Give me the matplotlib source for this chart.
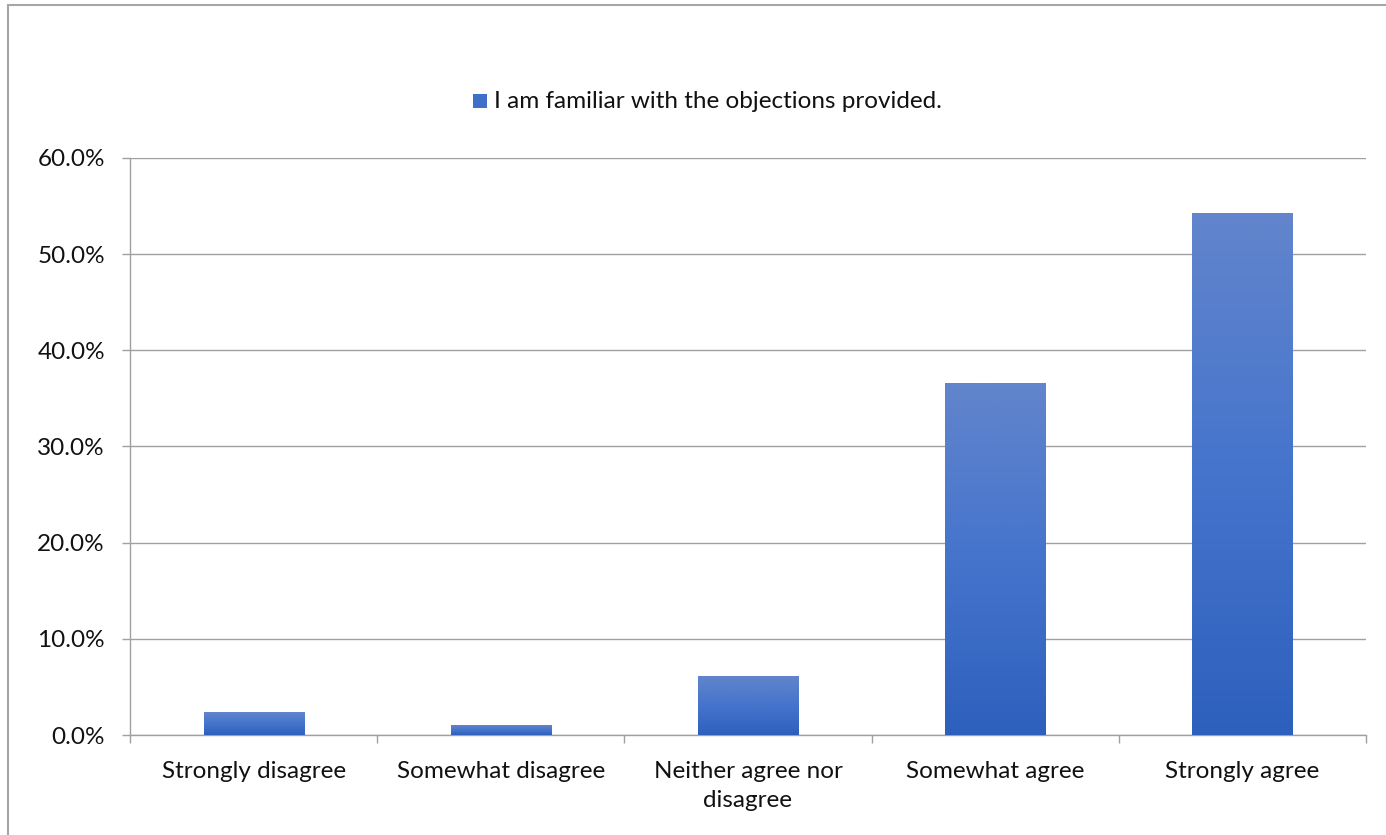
import numpy as np
import matplotlib.pyplot as plt
from matplotlib.colors import LinearSegmentedColormap
from matplotlib.patches import Rectangle

categories = ['Strongly disagree', 'Somewhat disagree', 'Neither agree nor\ndisagree',
              'Somewhat agree', 'Strongly agree']
values = [2.3, 1.0, 6.1, 36.6, 54.2]
series_name = 'I am familiar with the objections provided.'
yticks = [0, 10, 20, 30, 40, 50, 60]

plt.rcParams['font.family'] = ['Lato', 'DejaVu Sans']
FS = 17.5
TXT = '#111111'

W, H = 1386, 835
fig = plt.figure(figsize=(W / 100, H / 100), dpi=100)

# outer chart frame (runs past the right/bottom edge)
fig.patches.append(Rectangle((8 / W, -0.1), 1.2, 1 - 5 / H + 0.1, transform=fig.transFigure,
                             fill=False, edgecolor='#a6a6a6', linewidth=1.5))

ax = fig.add_axes([130 / W, (H - 735) / H, 1236 / W, 577 / H])

grad = LinearSegmentedColormap.from_list('bar', ['#2d60bd', '#4574cc', '#6285cc'])
bar_w = 0.405
for i, v in enumerate(values):
    ax.imshow(np.linspace(0, 1, 256).reshape(-1, 1), cmap=grad, origin='lower', aspect='auto',
              extent=[i - bar_w / 2, i + bar_w / 2, 0, v], zorder=3)

ax.set_xlim(-0.5, len(categories) - 0.5)
ax.set_ylim(0, 60)

ax.set_yticks(yticks)
ax.set_yticklabels([f'{t:.1f}%' for t in yticks])
ax.yaxis.grid(True, color='#a0a0a0', linewidth=1)
ax.set_axisbelow(True)

ax.set_xticks(np.arange(-0.5, len(categories)), labels=[''] * (len(categories) + 1))
ax.set_xticks(np.arange(len(categories)), labels=categories, minor=True)
ax.tick_params(axis='x', which='major', length=6, color='#a0a0a0', width=1)
ax.tick_params(axis='x', which='minor', length=0, pad=19, labelsize=FS, labelcolor=TXT)
ax.tick_params(axis='y', length=6, color='#a0a0a0', width=1, pad=12, labelsize=FS,
               labelcolor=TXT)
for lbl in ax.get_xticklabels(minor=True):
    lbl.set_linespacing(1.45)

for side in ('top', 'right'):
    ax.spines[side].set_visible(False)
for side in ('left', 'bottom'):
    ax.spines[side].set_color('#a0a0a0')
    ax.spines[side].set_linewidth(1)

# legend
fig.patches.append(Rectangle((473 / W, (H - 108) / H), 14 / W, 14 / H, transform=fig.transFigure,
                             facecolor='#3f6fc8', edgecolor='none'))
fig.text(494 / W, (H - 101) / H, series_name, fontsize=FS, color=TXT, va='center', ha='left')

fig.savefig('out.png', dpi=100)
